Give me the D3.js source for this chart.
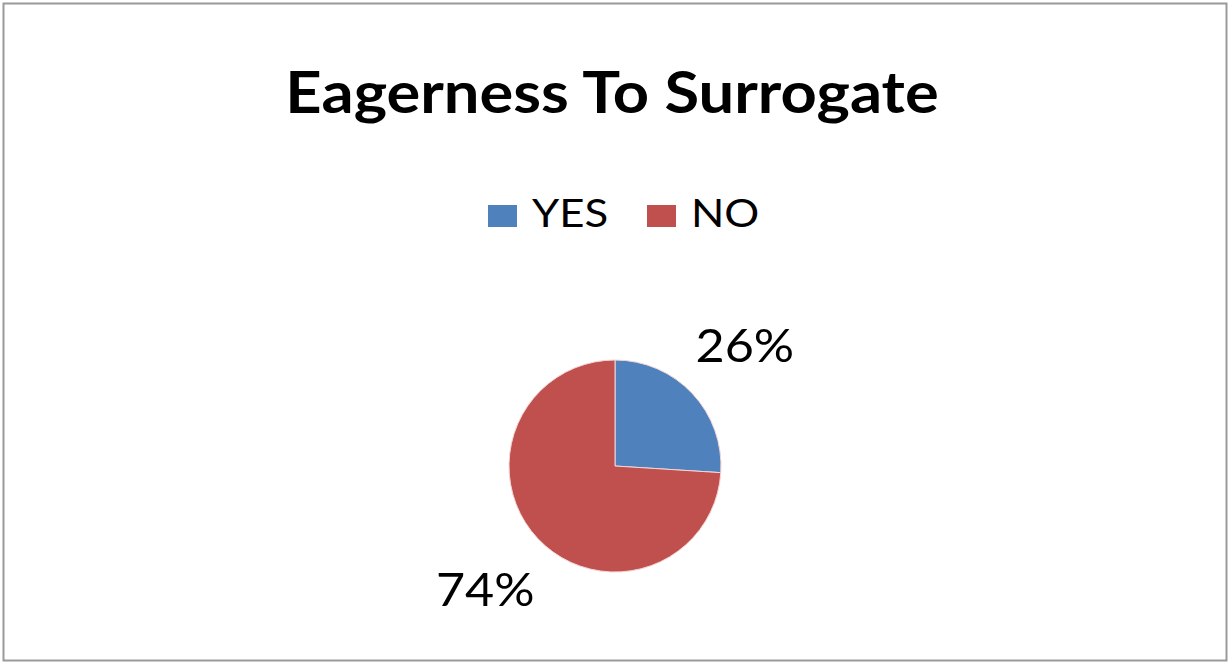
<!DOCTYPE html>
<html>
<head>
<meta charset="utf-8">
<script src="https://cdn.jsdelivr.net/npm/d3@7"></script>
<style>
  html, body { margin: 0; padding: 0; background: #fff; }
  svg { display: block; }
</style>
</head>
<body>
<svg id="chart" width="1230" height="664"></svg>
<script>
// Survey answers: share of respondents willing to act as a surrogate
const categories = ["YES", "NO"];
const values = [26, 74];
const valueLabels = ["26%", "74%"];
const colors = ["#4F81BD", "#C0504D"];
const title = "Eagerness To Surrogate";

const W = 1230, H = 664;
const svg = d3.select("#chart");
const font = "Lato, 'Open Sans', sans-serif";

// chart frame
svg.append("rect")
  .attr("x", 3.5).attr("y", 3.5)
  .attr("width", W - 7).attr("height", H - 7)
  .attr("fill", "#fff")
  .attr("stroke", "#9a9a9a")
  .attr("stroke-width", 2);

// title (the chart's text is set slightly wide)
svg.append("text")
  .attr("transform", "translate(612,113) scale(1.11,1)")
  .attr("text-anchor", "middle")
  .attr("font-family", font)
  .attr("font-weight", "bold")
  .attr("font-size", 57)
  .attr("fill", "#000")
  .text(title);

// legend
const legendX = d3.scaleOrdinal().domain(categories).range([488, 647]);
const item = svg.append("g").selectAll("g").data(categories).join("g")
  .attr("transform", d => `translate(${legendX(d)},205)`);
item.append("rect")
  .attr("width", 29).attr("height", 22)
  .attr("fill", (d, i) => colors[i]);
item.append("text")
  .attr("transform", "translate(44,22) scale(1.15,1)")
  .attr("font-family", font)
  .attr("font-size", 38)
  .attr("fill", "#000")
  .text(d => d);

// pie
const cx = 615, cy = 466, r = 106;
const pie = d3.pie().sort(null).value(d => d);
const arc = d3.arc().innerRadius(0).outerRadius(r);
const arcs = pie(values);
const g = svg.append("g").attr("transform", `translate(${cx},${cy})`);
g.selectAll("path").data(arcs).join("path")
  .attr("d", arc)
  .attr("fill", (d, i) => colors[i])
  .attr("stroke", "#f4d6d6")
  .attr("stroke-width", 1);

// outside value labels
const labelArc = d3.arc().innerRadius(r * 1.68).outerRadius(r * 1.68);
g.selectAll("text.val").data(arcs).join("text")
  .attr("class", "val")
  .attr("transform", d => {
    const [x, y] = labelArc.centroid(d);
    return `translate(${x},${y}) scale(1.07,1)`;
  })
  .attr("text-anchor", "middle")
  .attr("dominant-baseline", "central")
  .attr("font-family", font)
  .attr("font-size", 47)
  .attr("fill", "#000")
  .text((d, i) => valueLabels[i]);
</script>
</body>
</html>
